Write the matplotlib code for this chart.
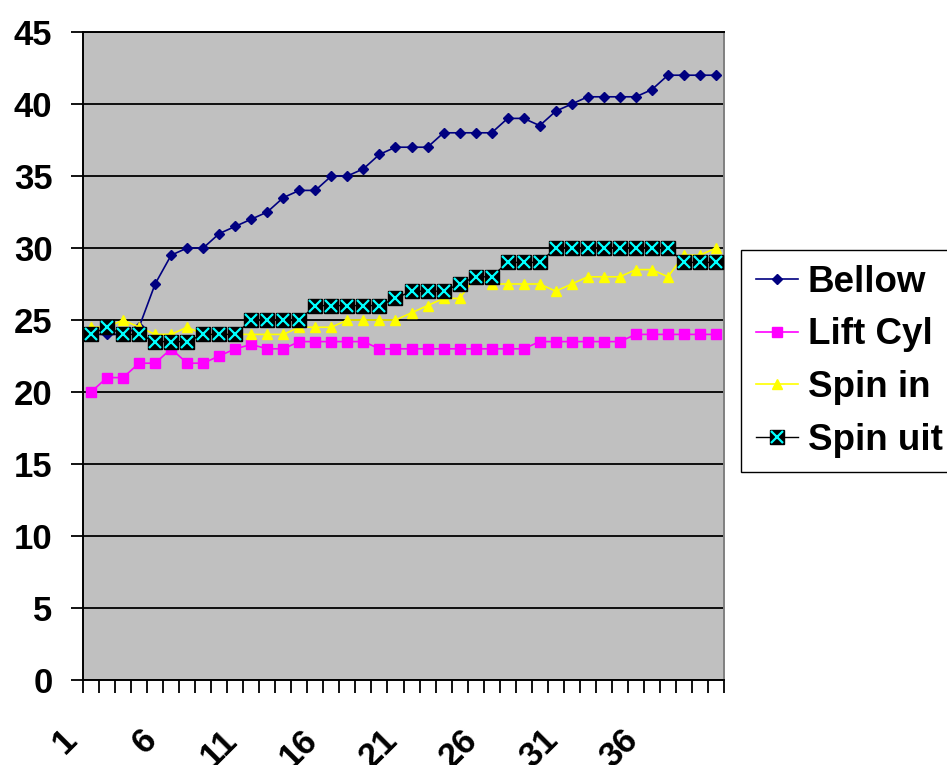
import matplotlib
matplotlib.use("Agg")
import matplotlib.pyplot as plt
import matplotlib.transforms as mtransforms
import numpy as np


# category index 1..40
categories = list(range(1, 41))
tick_labels = ["1", "6", "11", "16", "21", "26", "31", "36"]

bellow = [24, 24, 24, 24.5, 27.5, 29.5, 30, 30, 31, 31.5,
          32, 32.5, 33.5, 34, 34, 35, 35, 35.5, 36.5, 37,
          37, 37, 38, 38, 38, 38, 39, 39, 38.5, 39.5,
          40, 40.5, 40.5, 40.5, 40.5, 41, 42, 42, 42, 42]
lift_cyl = [20, 21, 21, 22, 22, 23, 22, 22, 22.5, 23,
            23.3, 23, 23, 23.5, 23.5, 23.5, 23.5, 23.5, 23, 23,
            23, 23, 23, 23, 23, 23, 23, 23, 23.5, 23.5,
            23.5, 23.5, 23.5, 23.5, 24, 24, 24, 24, 24, 24]
spin_in = [24.5, 24.5, 25, 24.5, 24, 24, 24.5, 24, 24, 24,
           24, 24, 24, 24.5, 24.5, 24.5, 25, 25, 25, 25,
           25.5, 26, 26.5, 26.5, 28, 27.5, 27.5, 27.5, 27.5, 27,
           27.5, 28, 28, 28, 28.5, 28.5, 28, 29.5, 29.5, 30]
spin_uit = [24, 24.5, 24, 24, 23.5, 23.5, 23.5, 24, 24, 24,
            25, 25, 25, 25, 26, 26, 26, 26, 26, 26.5,
            27, 27, 27, 27.5, 28, 28, 29, 29, 29, 30,
            30, 30, 30, 30, 30, 30, 30, 29, 29, 29]

W, H = 947, 765
FONT = "Liberation Sans"

plt.rcParams.update({
    "font.family": [FONT, "DejaVu Sans"],
    "font.weight": "bold",
})

fig = plt.figure(figsize=(W / 100, H / 100), dpi=100)
ax = fig.add_axes([83 / W, 1 - 680 / H, (724 - 83) / W, (680 - 32) / H])
ax.set_facecolor("#C0C0C0")

x = np.array(categories)

ax.plot(x, bellow, color="#000080", linewidth=1.2, marker="D", markersize=5,
        markerfacecolor="#000080", markeredgecolor="#000080", label="Bellow", zorder=3)
ax.plot(x, lift_cyl, color="#FF00FF", linewidth=1.2, marker="s", markersize=7,
        markerfacecolor="#FF00FF", markeredgecolor="#FF00FF", label="Lift Cyl", zorder=4)
ax.plot(x, spin_in, color="#FFFF00", linewidth=1.2, marker="^", markersize=7.5,
        markerfacecolor="#FFFF00", markeredgecolor="#FFFF00", label="Spin in", zorder=5)
box, = ax.plot(x, spin_uit, color="black", linewidth=1.0, marker="s", markersize=10,
               markerfacecolor="black", markeredgecolor="black", zorder=6)
cross, = ax.plot(x, spin_uit, linestyle="none", marker="x", markersize=8,
                 markeredgewidth=1.6, color="#00FFFF", zorder=7)

ax.set_xlim(0.5, 40.5)
ax.set_ylim(0, 45)
ax.set_yticks(np.arange(0, 46, 5))
ax.yaxis.grid(True, color="black", linewidth=1.3)
ax.set_axisbelow(True)

# ticks between categories, labels every 5th category
ax.set_xticks(np.arange(0.5, 41, 1))
ax.set_xticklabels([])
ax.set_xticks([categories[i] for i in range(0, 40, 5)], minor=True)
ax.set_xticklabels(tick_labels, minor=True, rotation=45, ha="right", va="center",
                   rotation_mode="anchor", fontsize=25, fontweight="bold")
ax.tick_params(axis="x", which="major", direction="out", length=9, width=1.3, color="black")
ax.tick_params(axis="x", which="minor", length=0, pad=0)
offset = mtransforms.ScaledTranslation(-19 / 100, -55 / 100, fig.dpi_scale_trans)
for lab in ax.get_xticklabels(minor=True):
    lab.set_transform(lab.get_transform() + offset)

ax.tick_params(axis="y", direction="out", length=9, width=1.3, pad=13, labelsize=25)
for lab in ax.get_yticklabels():
    lab.set_fontweight("bold")

for side in ["left", "bottom", "top"]:
    ax.spines[side].set_color("black")
    ax.spines[side].set_linewidth(1.4)
ax.spines["right"].set_color("#808080")
ax.spines["right"].set_linewidth(1.4)

handles = ax.get_lines()[:3] + [(box, cross)]
labels = ["Bellow", "Lift Cyl", "Spin in", "Spin uit"]
leg = fig.legend(handles, labels, loc="upper left",
                 bbox_to_anchor=(741 / W, 1 - 250 / H), bbox_transform=fig.transFigure,
                 frameon=True, fancybox=False, edgecolor="black", framealpha=1,
                 prop={"family": FONT, "weight": "bold", "size": 26.5},
                 handlelength=1.15, handletextpad=0.27, labelspacing=0.48,
                 borderpad=0.4, borderaxespad=0)
leg.get_frame().set_linewidth(1.0)

fig.savefig("out.png", dpi=100)
